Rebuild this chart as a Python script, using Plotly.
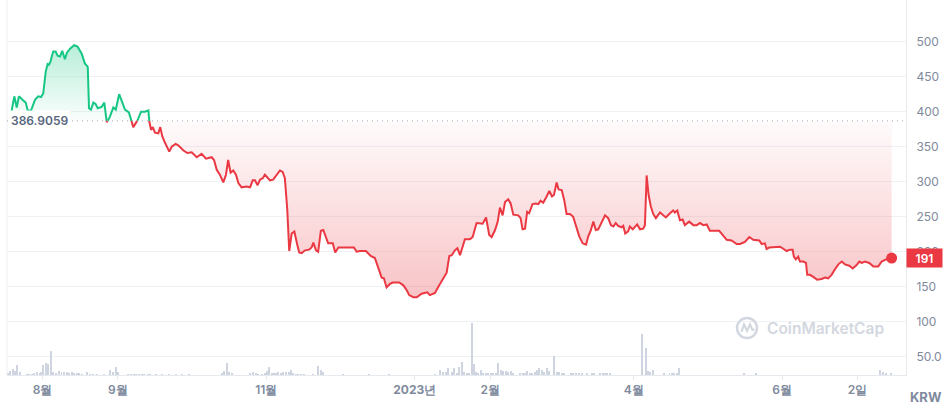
import plotly.graph_objects as go
import pandas as pd

START = pd.Timestamp("2022-07-18")
BASELINE = 386.9059
LAST_PRICE = 191

# days since START, price (KRW)
price_day = [1.3, 2.4, 3.4, 4.3, 6.1, 7.1, 7.9, 9.2, 10.9, 12.2, 13.4, 14.3, 15.3, 16.1, 16.6, 17.2, 17.8,
             18.4, 19.4, 20.2, 21.2, 22.1, 23.2, 24.0, 25.3, 27.0, 28.4, 30.1, 31.4, 32.6, 33.1, 33.9, 34.9,
             35.8, 36.7, 38.3, 39.4, 40.4, 41.7, 43.1, 44.1, 45.5, 46.5, 47.9, 49.5, 51.3, 53.1, 54.5, 56.1,
             57.5, 57.9, 58.6, 59.3, 60.2, 61.6, 62.4, 63.2, 64.3, 66.1, 67.1, 68.7, 69.8, 70.5, 71.8, 73.5,
             75.3, 77.4, 79.4, 81.2, 83.5, 84.5, 85.6, 86.9, 88.3, 89.4, 90.3, 91.3, 92.4, 93.5, 94.5, 95.8,
             97.9, 99.3, 100.4, 101.3, 102.4, 103.4, 104.5, 105.4, 107.5, 108.8, 110.2, 111.6, 112.7, 113.6,
             114.6, 115.4, 116.4, 117.5, 118.7, 119.5, 120.5, 121.9, 123.6, 124.6, 125.3, 126.4, 127.3, 128.4,
             129.4, 130.5, 131.4, 133.3, 134.3, 135.6, 137.6, 139.7, 142.0, 143.1, 144.5, 146.9, 148.9, 150.6,
             152.0, 153.4, 154.3, 155.4, 156.8, 157.9, 160.6, 162.3, 163.7, 164.7, 166.4, 167.8, 169.8, 172.1,
             173.2, 175.3, 176.7, 178.7, 180.1, 181.2, 182.2, 183.5, 184.5, 185.6, 186.7, 187.6, 189.7, 190.8,
             192.4, 193.5, 194.9, 196.3, 197.6, 198.6, 200.0, 201.1, 202.0, 203.1, 204.1, 205.4, 206.4, 207.5,
             209.5, 210.5, 211.3, 212.3, 213.2, 214.0, 215.4, 216.8, 217.8, 218.7, 219.8, 221.2, 222.3, 223.4,
             224.2, 225.3, 226.1, 227.4, 228.4, 229.4, 230.8, 232.1, 233.5, 234.6, 236.0, 237.4, 238.3, 239.3,
             240.4, 241.4, 242.4, 243.4, 245.2, 246.5, 247.6, 248.6, 249.6, 250.6, 252.0, 252.7, 253.5, 254.7,
             255.4, 256.6, 258.4, 259.6, 260.9, 261.6, 262.3, 263.1, 264.0, 265.0, 266.1, 267.8, 269.1, 270.2,
             271.9, 273.2, 273.9, 274.9, 276.0, 277.1, 278.0, 279.8, 281.5, 282.9, 284.2, 285.6, 287.0, 288.3,
             290.4, 292.1, 293.1, 295.2, 297.2, 299.3, 300.7, 302.7, 304.5, 306.1, 308.6, 309.6, 310.9, 311.6,
             312.7, 315.0, 317.1, 318.2, 319.8, 321.2, 322.3, 322.8, 323.6, 324.6, 325.3, 326.7, 327.8, 328.3,
             329.4, 330.8, 332.4, 334.2, 335.6, 336.9, 338.3, 339.7, 341.1, 342.5, 343.8, 345.6, 347.0, 348.6,
             349.7, 350.7, 352.0, 353.8, 355.5, 357.5, 358.9, 360.7, 363.0]
price = [401, 422, 406, 422, 416, 413, 402, 401, 417, 422, 421, 426, 457, 468, 467, 471, 479,
         486, 486, 480, 479, 487, 475, 484, 490, 495, 493, 483, 469, 464, 405, 403, 413,
         411, 405, 407, 413, 385, 393, 406, 403, 425, 416, 403, 399, 378, 388, 400, 400,
         402, 386, 374, 378, 370, 369, 378, 365, 356, 343, 350, 354, 352, 349, 345, 341,
         342, 335, 340, 333, 335, 331, 317, 310, 299, 310, 331, 313, 316, 310, 298, 292,
         293, 292, 302, 302, 295, 303, 305, 310, 302, 303, 310, 316, 314, 305,
         260, 201, 226, 229, 210, 199, 198, 202, 203, 206, 213, 202, 200, 230,
         231, 221, 212, 212, 199, 206, 206, 206, 206, 200, 201, 201, 194, 191,
         176, 163, 162, 149, 154, 156, 156, 152, 145, 138, 135, 135, 140, 142,
         138, 141, 150, 162, 170, 194, 195, 202, 205, 195, 210, 218, 218, 221,
         241, 241, 240, 249, 224, 221, 231, 243, 263, 252, 271, 275, 269, 253,
         252, 248, 232, 233, 257, 255, 268, 269, 268, 273, 270, 279, 287, 279,
         281, 299, 289, 288, 274, 254, 254, 250, 236, 222, 212, 210, 222, 230,
         243, 231, 232, 239, 252, 248, 238, 236, 241, 237, 235, 237, 226, 229,
         236, 232, 239, 232, 233, 238, 309, 281, 265, 254, 248, 256, 252, 249,
         255, 259, 256, 259, 245, 246, 238, 243, 238, 238, 241, 238, 239, 230,
         230, 230, 226, 217, 216, 211, 211, 214, 221, 217, 216, 211, 212, 204,
         206, 206, 207, 205, 201, 203, 203, 193, 189, 193, 186, 186, 184, 167,
         167, 164, 160, 161, 163, 162, 167, 175, 182, 186, 182, 180, 176, 181,
         186, 184, 186, 184, 179, 179, 186, 189, 191]

# volume (relative units), days since START
vol_day = [0, 0.6, 1.7, 2.7, 3.6, 4.7, 7.5, 8.6, 9.5, 10.6, 11.6, 12.8, 13.4, 14.3, 15.4, 16.4, 17.5, 18.4,
           19.4, 20.9, 21.8, 23.0, 23.9, 25.0, 26.0, 26.9, 28.0, 29.1, 30.1, 32.4, 33.5, 34.8, 36.2, 39.2,
           41.7, 42.8, 44.2, 45.1, 49.1, 50.5, 51.5, 52.6, 53.7, 54.8, 55.8, 57.2, 58.2, 60.5, 63.2, 66.0,
           68.7, 71.5, 74.2, 87.6, 88.6, 89.7, 90.8, 91.7, 99.3, 100.6, 101.7, 102.7, 104.1, 105.4, 106.1,
           107.2, 108.2, 109.1, 110.0, 110.9, 111.9, 112.9, 114.1, 115.2, 116.1, 117.1, 118.2, 119.1, 120.2,
           121.5, 125.3, 127.3, 128.3, 129.4, 137.4, 148.3, 156.5, 175.3, 177.4, 178.5, 179.8, 180.8, 182.2,
           183.1, 184.2, 185.3, 186.3, 187.3, 188.3, 189.4, 190.4, 191.3, 192.2, 193.1, 194.1, 195.2, 196.3,
           197.2, 198.2, 199.3, 200.4, 201.3, 202.4, 203.4, 204.5, 205.4, 206.4, 207.5, 210.2, 211.3, 212.3,
           213.2, 214.3, 215.3, 216.4, 217.3, 218.2, 219.1, 220.1, 221.2, 222.2, 224.2, 225.6, 226.4, 227.4,
           228.3, 231.1, 232.2, 233.3, 234.6, 235.6, 237.9, 239.7, 240.7, 243.2, 244.2, 245.2, 246.1, 247.2,
           260.4, 261.9, 262.9, 263.8, 265.1, 269.6, 271.7, 272.6, 273.7, 274.7, 275.7, 302.3, 307.2, 358.2,
           359.3, 360.7, 362.6]
volume = [17, 40, 60, 40, 100, 27, 7, 7, 7, 23, 27, 17, 33, 100, 117, 107, 243, 33,
          17, 40, 33, 27, 27, 17, 27, 17, 17, 17, 10, 33, 10, 10, 10, 10,
          50, 27, 83, 33, 7, 7, 7, 7, 7, 10, 7, 7, 7, 10, 7, 7,
          7, 7, 7, 17, 40, 117, 33, 17, 17, 27, 17, 10, 10, 17, 40,
          83, 17, 17, 17, 27, 17, 33, 27, 33, 50, 17, 10, 10, 10,
          10, 10, 93, 50, 27, 10, 7, 10, 5, 50, 33, 27, 67, 33,
          73, 17, 83, 127, 33, 17, 17, 520, 110, 27, 17, 47, 23, 17,
          23, 17, 23, 23, 123, 47, 40, 40, 33, 40, 17, 13, 17, 23,
          40, 23, 23, 33, 47, 73, 47, 33, 67, 40, 193, 33, 30, 23,
          13, 17, 13, 13, 13, 17, 17, 23, 13, 17, 23, 23, 17, 17,
          410, 267, 40, 33, 47, 13, 13, 17, 17, 13, 67, 13, 13, 47,
          33, 13, 23]

x_tick_dates = ["2022-08-01", "2022-09-01", "2022-11-01", "2023-01-01", "2023-02-01",
                "2023-04-01", "2023-06-01", "2023-07-02"]
x_tick_text = ["8월", "9월", "11월", "<b>2023년</b>", "2월", "4월", "6월", "2일"]
y_tick_vals = [50, 100, 150, 200, 250, 300, 350, 400, 450, 500]
y_tick_text = ["50.0", "100", "150", "200", "250", "300", "350", "400", "450", "500"]

GREEN = "#16c784"
RED = "#ea3943"
FONT = "Inter"

# insert baseline crossing points so colours switch exactly at the baseline
aug_d, aug_v = [], []
for i in range(len(price)):
    if i > 0:
        a, b = price[i - 1] - BASELINE, price[i] - BASELINE
        if a * b < 0:
            f = a / (a - b)
            aug_d.append(price_day[i - 1] + f * (price_day[i] - price_day[i - 1]))
            aug_v.append(BASELINE)
    aug_d.append(price_day[i])
    aug_v.append(price[i])

aug_t = START + pd.to_timedelta(aug_d, unit="D")
base_y = [BASELINE] * len(aug_v)
up_fill = [max(v, BASELINE) for v in aug_v]
dn_fill = [min(v, BASELINE) for v in aug_v]
up_line = [v if v >= BASELINE - 1e-9 else None for v in aug_v]
dn_line = [v if v <= BASELINE + 1e-9 else None for v in aug_v]

vol_t = START + pd.to_timedelta(vol_day, unit="D")
last_t = START + pd.to_timedelta([price_day[-1]], unit="D")

fig = go.Figure()
fig.add_trace(go.Bar(x=vol_t, y=volume, yaxis="y", marker=dict(color="#cfd5e0", line=dict(width=0)),
                     width=0.4 * 86400000, hoverinfo="skip"))
fig.add_trace(go.Scatter(x=aug_t, y=base_y, yaxis="y2", mode="lines", line=dict(width=0), hoverinfo="skip"))
fig.add_trace(go.Scatter(x=aug_t, y=up_fill, yaxis="y2", mode="lines", line=dict(width=0), fill="tonexty",
                         fillgradient=dict(type="vertical", start=BASELINE, stop=max(price),
                                           colorscale=[[0, "rgba(22,199,132,0.02)"], [1, "rgba(22,199,132,0.30)"]]),
                         hoverinfo="skip"))
fig.add_trace(go.Scatter(x=aug_t, y=base_y, yaxis="y2", mode="lines", line=dict(width=0), hoverinfo="skip"))
fig.add_trace(go.Scatter(x=aug_t, y=dn_fill, yaxis="y2", mode="lines", line=dict(width=0), fill="tonexty",
                         fillgradient=dict(type="vertical", start=min(price), stop=BASELINE,
                                           colorscale=[[0, "rgba(234,57,67,0.30)"], [1, "rgba(234,57,67,0.02)"]]),
                         hoverinfo="skip"))
fig.add_trace(go.Scatter(x=aug_t, y=up_line, yaxis="y2", mode="lines", connectgaps=False,
                         line=dict(color=GREEN, width=2)))
fig.add_trace(go.Scatter(x=aug_t, y=dn_line, yaxis="y2", mode="lines", connectgaps=False,
                         line=dict(color=RED, width=2)))
fig.add_trace(go.Scatter(x=last_t, y=[LAST_PRICE], yaxis="y2", mode="markers",
                         marker=dict(color=RED, size=11)))

# decoration helpers (pixel -> paper) for the watermark/labels
PL, PR, PT, PB = 7, 906, 0, 375
def px(x):
    return (x - PL) / (PR - PL)
def py(y):
    return (PB - y) / (PB - PT)

x_range = [START - pd.Timedelta(days=0.6), START + pd.Timedelta(days=368.9)]

fig.update_layout(
    width=946, height=413,
    margin=dict(l=PL, r=946 - PR, t=PT, b=413 - PB, autoexpand=False),
    plot_bgcolor="white", paper_bgcolor="white",
    showlegend=False, bargap=0, hovermode=False,
    font=dict(family=FONT),
    xaxis=dict(type="date", range=x_range, tickvals=x_tick_dates, ticktext=x_tick_text,
               showgrid=False, zeroline=False, showline=True, linecolor="#e6e9ee", linewidth=1,
               ticks="outside", ticklen=4, tickcolor="#e6e9ee",
               tickfont=dict(family=FONT, size=12, color="#808a9d", weight=600)),
    yaxis=dict(range=[0, 3750], visible=False, showgrid=False, zeroline=False),
    yaxis2=dict(overlaying="y", side="right", range=[23.9, 559.6],
                tickvals=y_tick_vals, ticktext=y_tick_text, showgrid=True, gridcolor="#eff2f5",
                zeroline=False, showline=True, linecolor="#e6e9ee", ticks="", ticklabelstandoff=7,
                tickfont=dict(family=FONT, size=12, color="#808a9d")),
    shapes=[
        dict(type="line", xref="paper", yref="paper", x0=0, x1=0, y0=0, y1=1,
             line=dict(color="#eef0f3", width=1)),
        dict(type="line", xref="paper", yref="y2", x0=0, x1=1, y0=BASELINE, y1=BASELINE,
             line=dict(color="#a1a7bb", width=1, dash="1px,4px")),
        dict(type="circle", xref="paper", yref="paper", x0=px(737), x1=px(757), y0=py(338), y1=py(318),
             line=dict(color="#d3d8e0", width=2.5)),
        dict(type="path", xref="paper", yref="paper",
             path=f"M {px(741.5)},{py(332)} L {px(744)},{py(324.5)} L {px(747)},{py(331)} "
                  f"L {px(750)},{py(324.5)} L {px(752.5)},{py(330)} L {px(754.5)},{py(329)}",
             line=dict(color="#d3d8e0", width=2.2)),
    ],
    annotations=[
        dict(xref="paper", yref="y2", x=0, y=BASELINE, xanchor="left", yanchor="middle",
             text="386.9059", showarrow=False, bgcolor="white", borderpad=2, xshift=1,
             font=dict(family=FONT, size=12, color="#58667e", weight=600)),
        dict(xref="paper", yref="y2", x=1, y=LAST_PRICE, xanchor="left", yanchor="middle",
             text="191", showarrow=False, bgcolor=RED, borderpad=0, width=35, height=18,
             font=dict(family=FONT, size=12, color="white", weight=600)),
        dict(xref="paper", yref="paper", x=px(765), y=py(328), xanchor="left", yanchor="middle",
             text="CoinMarketCap", showarrow=False,
             font=dict(family=FONT, size=15.5, color="#d3d8e0", weight=600)),
        dict(xref="paper", yref="paper", x=px(926), y=py(397), xanchor="center", yanchor="middle",
             text="KRW", showarrow=False,
             font=dict(family=FONT, size=13, color="#808a9d", weight=700)),
    ],
)

fig.write_html("out.html", config={"displayModeBar": False},
               post_script="document.body.style.margin='0';document.body.style.overflow='hidden';")
